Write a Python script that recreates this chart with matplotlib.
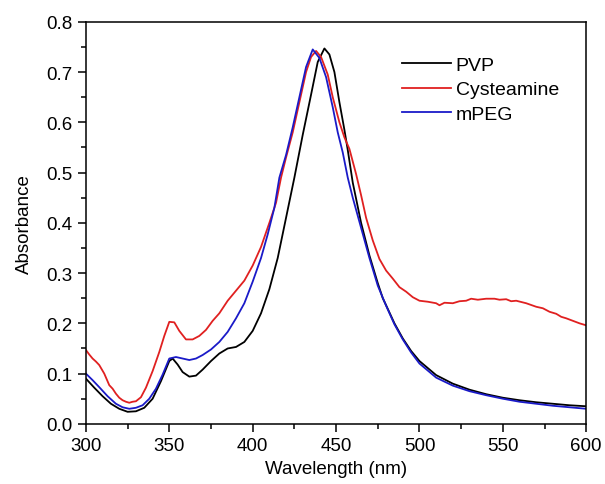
import matplotlib.pyplot as plt
from matplotlib.ticker import MultipleLocator

plt.rcParams['font.family'] = ['Liberation Sans', 'DejaVu Sans']

# wavelength (nm) / absorbance
pvp_wl = [300, 305, 310, 315, 320, 325, 330, 335, 340, 345, 350, 352, 355, 358,
          362, 366, 370, 375, 380, 385, 390, 395, 400, 405, 410, 415, 420, 425,
          430, 435, 439, 443, 446, 449, 452, 455, 457, 460, 465, 470, 475, 478,
          480, 485, 490, 495, 500, 510, 520, 530, 540, 550, 560, 570, 580, 590, 600]
pvp_abs = [0.090, 0.072, 0.055, 0.040, 0.030, 0.024, 0.025, 0.032, 0.050, 0.085,
           0.125, 0.130, 0.118, 0.103, 0.094, 0.096, 0.108, 0.125, 0.140, 0.150,
           0.153, 0.163, 0.185, 0.220, 0.268, 0.330, 0.410, 0.490, 0.575, 0.655,
           0.720, 0.747, 0.735, 0.700, 0.640, 0.585, 0.545, 0.480, 0.400, 0.335,
           0.280, 0.250, 0.236, 0.200, 0.170, 0.145, 0.125, 0.097, 0.080, 0.068,
           0.059, 0.052, 0.047, 0.043, 0.040, 0.037, 0.035]

cys_wl = [300, 302, 304, 306, 308, 311, 314, 316, 318, 320, 322, 324, 326, 328,
          330, 333, 336, 340, 344, 347, 350, 353, 356, 360, 364, 368, 372, 376,
          380, 385, 390, 395, 400, 405, 410, 414, 417, 420, 424, 428, 432, 435,
          438, 441, 445, 448, 452, 455, 458, 462, 465, 468, 472, 476, 480, 484,
          488, 492, 496, 500, 505, 510, 512, 515, 520, 524, 528, 531, 535, 540,
          545, 548, 552, 555, 558, 564, 570, 574, 578, 582, 585, 588, 592, 596, 600]
cys_abs = [0.147, 0.138, 0.130, 0.124, 0.117, 0.100, 0.077, 0.070, 0.060, 0.052,
           0.047, 0.044, 0.042, 0.044, 0.045, 0.053, 0.072, 0.105, 0.143, 0.175,
           0.203, 0.202, 0.185, 0.168, 0.168, 0.175, 0.187, 0.205, 0.220, 0.245,
           0.265, 0.285, 0.315, 0.352, 0.400, 0.440, 0.490, 0.530, 0.580, 0.640,
           0.700, 0.730, 0.742, 0.730, 0.695, 0.650, 0.600, 0.570, 0.547, 0.497,
           0.455, 0.410, 0.365, 0.328, 0.305, 0.289, 0.272, 0.263, 0.252, 0.245,
           0.243, 0.240, 0.236, 0.241, 0.240, 0.244, 0.245, 0.249, 0.247, 0.249,
           0.249, 0.247, 0.248, 0.244, 0.245, 0.240, 0.233, 0.230, 0.223, 0.219,
           0.213, 0.210, 0.205, 0.200, 0.196]

peg_wl = [300, 304, 308, 313, 318, 322, 326, 330, 334, 338, 342, 346, 350, 354,
          358, 362, 366, 370, 375, 380, 385, 390, 395, 400, 405, 409, 413, 416,
          420, 424, 428, 432, 436, 440, 444, 448, 451, 454, 457, 460, 465, 470,
          475, 480, 485, 490, 495, 500, 510, 520, 530, 540, 550, 560, 570, 580,
          590, 600]
peg_abs = [0.100, 0.087, 0.073, 0.055, 0.040, 0.033, 0.030, 0.032, 0.037, 0.050,
           0.070, 0.098, 0.130, 0.133, 0.130, 0.127, 0.130, 0.137, 0.148, 0.163,
           0.183, 0.210, 0.240, 0.283, 0.330, 0.377, 0.430, 0.490, 0.535, 0.590,
           0.650, 0.710, 0.745, 0.728, 0.690, 0.630, 0.580, 0.540, 0.490, 0.450,
           0.390, 0.330, 0.275, 0.235, 0.198, 0.168, 0.142, 0.120, 0.092, 0.076,
           0.065, 0.057, 0.050, 0.044, 0.040, 0.036, 0.033, 0.030]

fig = plt.figure(figsize=(6.05, 4.85), dpi=100)
ax = fig.add_axes([0.142, 0.124, 0.827, 0.829])

ax.plot(pvp_wl, pvp_abs, color='black', lw=1.3, label='PVP')
ax.plot(cys_wl, cys_abs, color='#e02020', lw=1.3, label='Cysteamine')
ax.plot(peg_wl, peg_abs, color='#1a1ac8', lw=1.3, label='mPEG')

ax.set_xlim(300, 600)
ax.set_ylim(0, 0.8)
ax.xaxis.set_major_locator(MultipleLocator(50))
ax.xaxis.set_minor_locator(MultipleLocator(25))
ax.yaxis.set_major_locator(MultipleLocator(0.1))
ax.yaxis.set_minor_locator(MultipleLocator(0.05))
ax.tick_params(which='major', direction='out', length=6, width=1.1, labelsize=13.5)
ax.tick_params(which='minor', direction='out', length=3.5, width=1.1)
for s in ax.spines.values():
    s.set_linewidth(1.1)

ax.set_xlabel('Wavelength (nm)', fontsize=13.5, labelpad=4)
ax.set_ylabel('Absorbance', fontsize=13.5, labelpad=10)

ax.legend(loc='upper left', bbox_to_anchor=(0.632, 0.915), frameon=False,
          fontsize=14, handlelength=2.5, handletextpad=0.25, labelspacing=0.37,
          borderpad=0, borderaxespad=0)

fig.savefig('out.png', dpi=100)
